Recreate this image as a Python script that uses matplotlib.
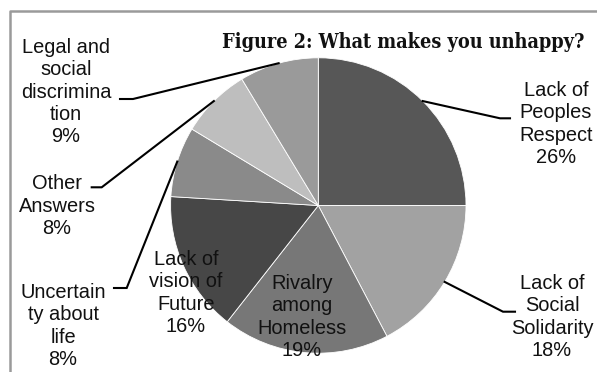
import matplotlib
matplotlib.use("Agg")
import matplotlib.pyplot as plt
import numpy as np

# Survey answers to "What makes you unhappy?"
categories = [
    "Lack of\nPeoples\nRespect",
    "Lack of\nSocial\nSolidarity",
    "Rivalry\namong\nHomeless",
    "Lack of\nvision of\nFuture",
    "Uncertain\nty about\nlife",
    "Other\nAnswers",
    "Legal and\nsocial\ndiscrimina\ntion",
]
percent = [26, 18, 19, 16, 8, 8, 9]
colors = ["#575757", "#a2a2a2", "#777777", "#474747", "#8a8a8a", "#bebebe", "#9a9a9a"]
title = "Figure 2: What makes you unhappy?"

W, H = 597, 372
fig = plt.figure(figsize=(W / 100, H / 100), dpi=100)
ax = fig.add_axes([0, 0, 1, 1])

cx, cy, r = 318.3, 166.5, 147.7
wedges, _ = ax.pie(percent, colors=colors, startangle=90, counterclock=False,
                   center=(cx, cy), radius=r, frame=True,
                   wedgeprops=dict(edgecolor="white", linewidth=0.6))
ax.set_xlim(0, W)
ax.set_ylim(0, H)
ax.set_aspect("equal")
ax.axis("off")

# label placement: text centre, and optional leader (elbow, end) points
label_pos = [(556, 248), (552, 55), (302, 55), (186, 79), (63, 46), (57, 166), (66, 280)]
leaders = [((500, 253.7), (510, 253.7)),
           ((503, 60.3), (515, 60.3)),
           None,
           None,
           ((126.7, 84), (114, 84)),
           ((101.7, 184.7), (91.7, 184.7)),
           ((133, 273), (120, 273))]

font = dict(family="Liberation Sans", size=14.4, color="#111111")
for w, cat, p, pos, ld in zip(wedges, categories, percent, label_pos, leaders):
    ax.text(pos[0], pos[1], f"{cat}\n{p}%", ha="center", va="center",
            linespacing=1.22, **font)
    if ld is not None:
        mid = np.deg2rad((w.theta1 + w.theta2) / 2)
        sx, sy = cx + r * np.cos(mid), cy + r * np.sin(mid)
        ax.plot([sx, ld[0][0], ld[1][0]], [sy, ld[0][1], ld[1][1]],
                color="black", lw=1.5, solid_joinstyle="miter")

# chart area border (left and top edges visible)
ax.plot([9.7, 9.7, W + 5], [-5, H - 10.5, H - 10.5], color="#9a9a9a", lw=1.8,
        clip_on=False)

ax.text(403.5, H - 47.5, title, ha="center", va="baseline",
        family="DejaVu Serif", fontweight="bold", fontstretch="condensed",
        fontsize=14.2, color="#111111")

fig.savefig("out.png", dpi=100)
